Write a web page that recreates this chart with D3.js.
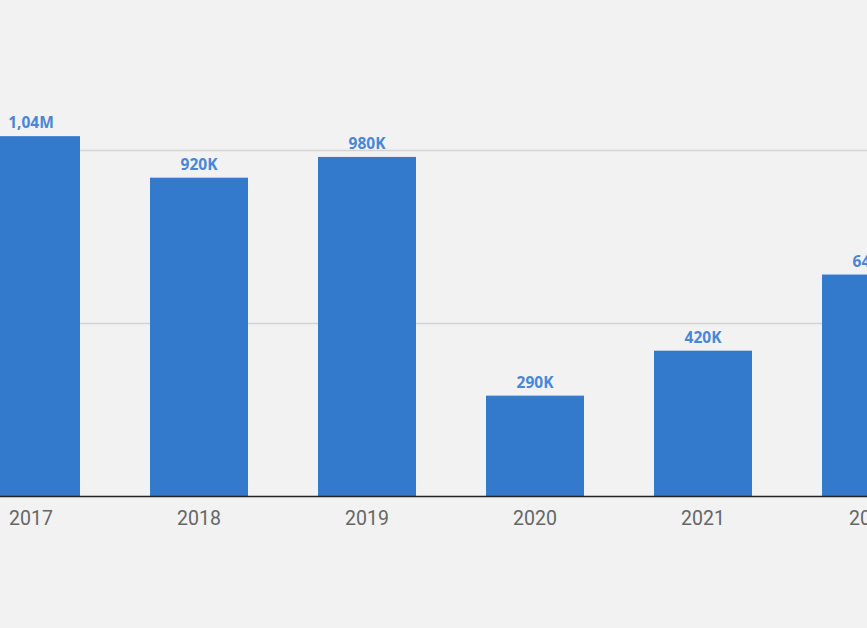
<!DOCTYPE html>
<html><head><meta charset="utf-8">
<script src="https://cdn.jsdelivr.net/npm/d3@7"></script>
<style>html,body{margin:0;padding:0;background:#f2f2f2;overflow:hidden}</style>
</head><body>
<svg id="c" width="867" height="628"></svg>
<script>
const years = ["2017","2018","2019","2020","2021","2022"];
const values = [1040000, 920000, 980000, 290000, 420000, 640000];
const labels = ["1,04M","920K","980K","290K","420K","640K"];
const gridTicks = [500000, 1000000];

const W = 867, H = 628;
const svg = d3.select("#c");
svg.append("rect").attr("width", W).attr("height", H).attr("fill", "#f2f2f2");

const x = d3.scaleBand().domain(years).range([-88, 990]).padding(70/168);
const y = d3.scaleLinear().domain([0, 1000000]).range([496, 150]);

svg.append("g").selectAll("line").data(gridTicks).join("line")
  .attr("x1", 0).attr("x2", W)
  .attr("y1", d => Math.round(y(d)) + 0.5).attr("y2", d => Math.round(y(d)) + 0.5)
  .attr("stroke", "#d4d4d4").attr("stroke-width", 1.4);

svg.append("g").selectAll("rect").data(years).join("rect")
  .attr("x", d => x(d)).attr("width", x.bandwidth())
  .attr("y", (d, i) => y(values[i])).attr("height", (d, i) => y(0) - y(values[i]))
  .attr("fill", "#337acd");

svg.append("g").selectAll("text").data(years).join("text")
  .attr("x", d => x(d) + x.bandwidth() / 2)
  .attr("y", (d, i) => y(values[i]) - 8)
  .attr("text-anchor", "middle")
  .attr("font-family", "'Open Sans', sans-serif").attr("font-weight", 700)
  .attr("font-size", 15.5).attr("fill", "#4a86d8")
  .text((d, i) => labels[i]);

const ax = svg.append("g").attr("transform", `translate(0,${y(0)})`)
  .call(d3.axisBottom(x).tickSize(0).tickPadding(15));
ax.select(".domain").remove();
ax.selectAll("text").attr("font-family", "Roboto, sans-serif").attr("font-size", 19.5).attr("fill", "#666");
svg.append("line").attr("x1", 0).attr("x2", W).attr("y1", 496.5).attr("y2", 496.5)
  .attr("stroke", "#222").attr("stroke-width", 1.5);
</script>
</body></html>
